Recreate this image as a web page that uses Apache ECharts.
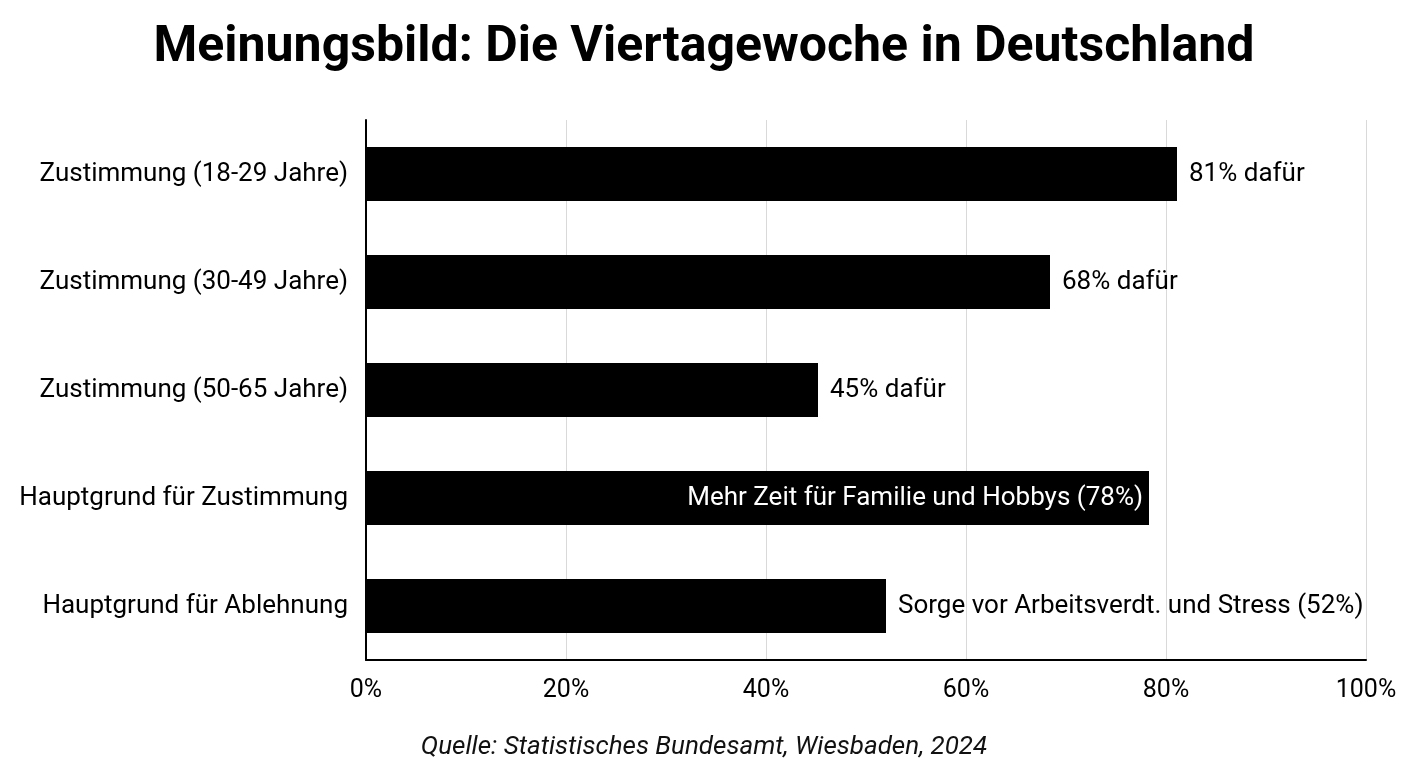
<!DOCTYPE html>
<html>
<head>
<meta charset="utf-8">
<title>Viertagewoche</title>
<script src="https://cdn.jsdelivr.net/npm/echarts@6/dist/echarts.min.js"></script>
<style>
  html, body { margin: 0; padding: 0; background: #fff; }
  #chart { width: 1408px; height: 768px; }
</style>
</head>
<body>
<div id="chart"></div>
<script>
// Data
const categories = [
    'Zustimmung (18-29 Jahre)',
    'Zustimmung (30-49 Jahre)',
    'Zustimmung (50-65 Jahre)',
    'Hauptgrund für Zustimmung',
    'Hauptgrund für Ablehnung'
];
const values = [81.1, 68.4, 45.2, 78.3, 52];
const barLabels = [
    '81% dafür',
    '68% dafür',
    '45% dafür',
    'Mehr Zeit für Familie und Hobbys (78%)',
    'Sorge vor Arbeitsverdt. und Stress (52%)'
];
const tickValues = [0, 20, 40, 60, 80, 100];

const FONT = 'Roboto, "Noto Sans", sans-serif';

// the long reason label sits inside its bar
const seriesData = values.map((v, i) => {
    const inside = categories[i] === 'Hauptgrund für Zustimmung';
    return {
        value: v,
        label: {
            formatter: barLabels[i],
            position: inside ? 'insideRight' : 'right',
            distance: inside ? 6 : 12,
            color: inside ? '#fff' : '#000'
        }
    };
});

const chart = echarts.init(document.getElementById('chart'), null, { renderer: 'canvas' });

chart.setOption({
    backgroundColor: '#fff',
    animation: false,
    title: [{
        text: 'Meinungsbild: Die Viertagewoche in Deutschland',
        left: 'center',
        top: 18,
        textStyle: { fontFamily: FONT, fontSize: 50, fontWeight: 'bold', color: '#000' }
    }, {
        text: 'Quelle: Statistisches Bundesamt, Wiesbaden, 2024',
        left: 'center',
        top: 729,
        textStyle: { fontFamily: FONT, fontSize: 26, fontStyle: 'italic', fontWeight: 'normal', color: '#111' }
    }],
    grid: { left: 366, right: 42, top: 120, bottom: 108, containLabel: false },
    xAxis: {
        type: 'value',
        min: tickValues[0],
        max: tickValues[tickValues.length - 1],
        interval: 20,
        axisLine: { show: true, lineStyle: { color: '#000', width: 2 } },
        axisTick: { show: false },
        axisLabel: {
            formatter: v => v + '%',
            fontFamily: FONT, fontSize: 25, color: '#000', margin: 18
        },
        splitLine: { show: true, lineStyle: { color: '#d9d9d9', width: 1 } }
    },
    yAxis: {
        type: 'category',
        data: categories,
        inverse: true,
        axisLine: { show: true, lineStyle: { color: '#000', width: 2 } },
        axisTick: { show: false },
        axisLabel: { fontFamily: FONT, fontSize: 26, color: '#000', margin: 18 }
    },
    series: [{
        type: 'bar',
        data: seriesData,
        barWidth: '50%',
        itemStyle: { color: '#000' },
        label: { show: true, fontFamily: FONT, fontSize: 26 }
    }]
});
</script>
</body>
</html>
